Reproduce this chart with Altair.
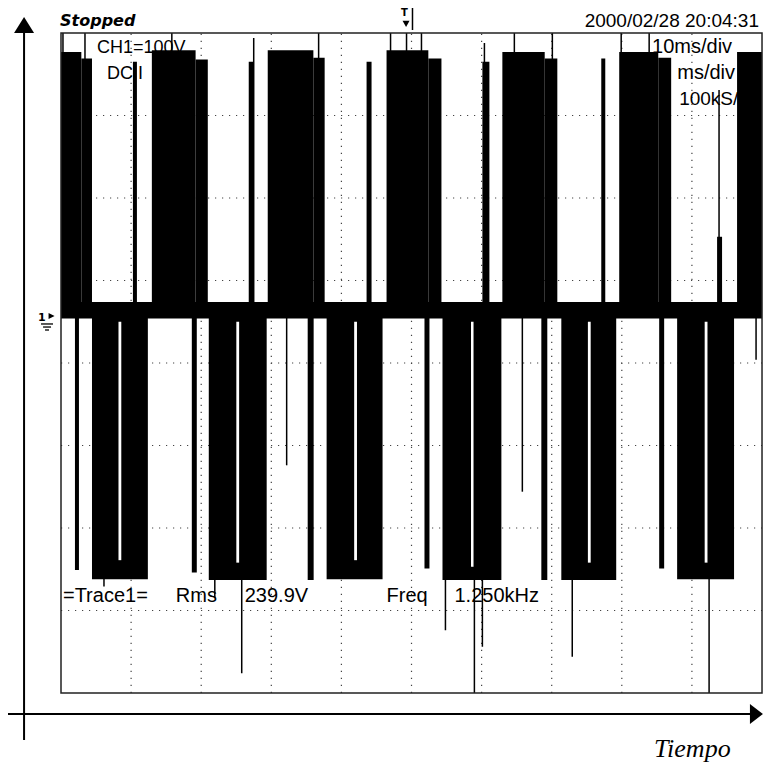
import altair as alt
import pandas as pd

# ---------------- data (time in ms, 10 ms/div ; voltage in V, 100 V/div) ----------------
# positive PWM bursts
pos_start = [0.0, 12.96, 29.49, 46.44, 62.96, 79.63, 96.44]
pos_end = [4.42, 20.94, 37.61, 54.27, 70.80, 87.04, 100.0]
pos_top = [317, 319, 319, 319, 317, 317, 317]
# lower right-hand shoulder of each positive burst
shoulder_start = [2.9, 19.2, 36.0, 52.4, 69.0, 85.2]
shoulder_top = [309, 308, 310, 309, 309, 310]

# negative PWM bursts (U shaped, with a narrow open slot)
neg_start = [4.42, 21.08, 37.89, 54.42, 71.37, 87.89]
neg_end = [12.39, 29.34, 45.87, 62.82, 79.20, 96.01]
neg_bottom = [-322, -323, -322, -323, -323, -322]
slot_center = [8.40, 25.21, 42.02, 58.69, 75.36, 92.02]
slot_bottom = [-299, -302, -299, -307, -302, -302]

# narrow positive pulses
thin_pos_start = [10.26, 26.78, 43.59, 60.11, 77.07, 93.59]
thin_pos_end = [10.83, 27.49, 44.30, 61.11, 77.64, 94.30]
thin_pos_top = [305, 305, 305, 305, 309, 93]

# narrow negative pulses
thin_neg_start = [1.99, 18.66, 35.19, 51.85, 68.52, 85.33]
thin_neg_end = [2.56, 19.37, 36.04, 52.56, 69.37, 86.04]
thin_neg_bottom = [-311, -314, -323, -309, -323, -309]

# single-sample glitches
up_glitch_t = [0.28, 3.42, 15.81, 27.49, 36.75, 47.01, 49.29, 51.42, 60.40, 64.67, 70.09, 79.91, 83.90, 93.87]
up_glitch_v = [340, 340, 340, 334, 340, 340, 340, 340, 328, 340, 340, 340, 340, 271]
down_glitch_t = [6.13, 21.94, 25.78, 32.19, 54.84, 58.97, 60.11, 65.81, 72.93, 92.45, 99.15]
down_glitch_v = [-331, -345, -436, -184, -384, -460, -404, -216, -416, -460, -56]

# zero-level trace band
band_low, band_high = -6, 14

# screen grid (10 x 8 divisions)
grid_t = [10, 20, 30, 40, 50, 60, 70, 80, 90]
grid_v = [240, 140, 40, -60, -160, -260, -360]

# on-screen texts
txt_label = ["CH1=100V", "DC I", "10ms/div", "ms/div", "100kS/s",
             "=Trace1=", "Rms", "239.9V", "Freq", "1.250kHz"]
txt_t = [5.13, 6.55, 95.73, 96.15, 88.18, 0.28, 16.38, 26.21, 46.44, 56.13]
txt_v = [315.8, 284.2, 315.8, 284.2, 252.7, -349.7, -349.7, -349.7, -349.7, -349.7]
txt_align = ["left", "left", "right", "right", "left", "left", "left", "left", "left", "left"]
txt_size = [18, 18, 20, 20, 19, 20, 20, 20, 20, 20]

# ---------------- scales ----------------
XS = alt.Scale(domain=[-7.561, 100.14], nice=False, zero=False)
YS = alt.Scale(domain=[-544.85, 370.30], nice=False, zero=False)


def xq(f):
    return alt.X(f"{f}:Q", scale=XS, axis=None)


def yq(f):
    return alt.Y(f"{f}:Q", scale=YS, axis=None)


# ---------------- tables ----------------
rows = []
for i, (s, e, t) in enumerate(zip(pos_start, pos_end, pos_top)):
    if i < len(shoulder_start):
        rows.append(dict(a=s, b=shoulder_start[i], lo=0, hi=t))
        rows.append(dict(a=shoulder_start[i], b=e, lo=0, hi=shoulder_top[i]))
    else:
        rows.append(dict(a=s, b=e, lo=0, hi=t))
for s, e, t in zip(thin_pos_start, thin_pos_end, thin_pos_top):
    rows.append(dict(a=s, b=e, lo=0, hi=t))
for s, e, b in zip(neg_start, neg_end, neg_bottom):
    rows.append(dict(a=s, b=e, lo=b, hi=0))
for s, e, b in zip(thin_neg_start, thin_neg_end, thin_neg_bottom):
    rows.append(dict(a=s, b=e, lo=b, hi=0))
rows.append(dict(a=0, b=100, lo=band_low, hi=band_high))
blocks = pd.DataFrame(rows)

slots = pd.DataFrame(dict(a=[c - 0.2 for c in slot_center],
                          b=[c + 0.2 for c in slot_center],
                          lo=slot_bottom, hi=[-10] * len(slot_center)))

glitches = pd.DataFrame(dict(
    t=up_glitch_t + down_glitch_t,
    v1=[0] * (len(up_glitch_t) + len(down_glitch_t)),
    v2=up_glitch_v + down_glitch_v,
))

vgrid = pd.DataFrame(dict(t=grid_t, v1=-460, v2=340))
hgrid = pd.DataFrame(dict(v=grid_v, t1=0, t2=100))
frame = pd.DataFrame(dict(a=[0], b=[100], lo=[-460], hi=[340]))
texts = pd.DataFrame(dict(label=txt_label, t=txt_t, v=txt_v, align=txt_align, size=txt_size))

# ---------------- layers ----------------
grid_v_layer = alt.Chart(vgrid).mark_rule(color="#444", strokeWidth=1.2, strokeDash=[1.2, 5.8]).encode(
    x=xq("t"), y=yq("v1"), y2="v2")
grid_h_layer = alt.Chart(hgrid).mark_rule(color="#444", strokeWidth=1.2, strokeDash=[1.2, 5.8]).encode(
    y=yq("v"), x=xq("t1"), x2="t2")

text_layers = []
for al in ["left", "right"]:
    for sz in sorted(set(txt_size)):
        sub = texts[(texts["align"] == al) & (texts["size"] == sz)]
        if len(sub) == 0:
            continue
        text_layers.append(
            alt.Chart(sub).mark_text(align=al, baseline="alphabetic", font="Liberation Sans",
                                     fontSize=sz, color="black").encode(
                x=xq("t"), y=yq("v"), text="label:N"))

trace_layer = alt.Chart(blocks).mark_rect(color="black").encode(
    x=xq("a"), x2="b", y=yq("lo"), y2="hi")
slot_layer = alt.Chart(slots).mark_rect(color="white").encode(
    x=xq("a"), x2="b", y=yq("lo"), y2="hi")
glitch_layer = alt.Chart(glitches).mark_rule(color="black", strokeWidth=1.5).encode(
    x=xq("t"), y=yq("v1"), y2="v2")
frame_layer = alt.Chart(frame).mark_rect(fillOpacity=0, stroke="#222", strokeWidth=1.5).encode(
    x=xq("a"), x2="b", y=yq("lo"), y2="hi")

# header / outer decorations (positions in the same ms / V units)
stopped = alt.Chart(pd.DataFrame(dict(t=[-0.14], v=[348.5], s=["Stopped"]))).mark_text(
    align="left", baseline="alphabetic", font="DejaVu Sans", fontSize=16, fontWeight="bold",
    fontStyle="italic").encode(x=xq("t"), y=yq("v"), text="s:N")
date = alt.Chart(pd.DataFrame(dict(t=[99.57], v=[347.3], s=["2000/02/28  20:04:31"]))).mark_text(
    align="right", baseline="alphabetic", font="Liberation Sans", fontSize=19).encode(
    x=xq("t"), y=yq("v"), text="s:N")
trig_t = alt.Chart(pd.DataFrame(dict(t=[49.0], v=[360.6], s=["T"]))).mark_text(
    align="center", baseline="alphabetic", font="DejaVu Sans", fontSize=10, fontWeight="bold").encode(
    x=xq("t"), y=yq("v"), text="s:N")
trig_arrow = alt.Chart(pd.DataFrame(dict(t=[49.22], v=[351.5]))).mark_point(
    shape="M-1,-0.8L1,-0.8L0,1Z", size=49, filled=True, color="black", opacity=1).encode(
    x=xq("t"), y=yq("v"))
trig_bar = alt.Chart(pd.DataFrame(dict(t=[50.14], v1=[370.3], v2=[343.6]))).mark_rule(
    color="black", strokeWidth=1.5).encode(x=xq("t"), y=yq("v1"), y2="v2")

gnd_text = alt.Chart(pd.DataFrame(dict(t=[-2.75], v=[-9.1], s=["1"]))).mark_text(
    align="center", baseline="alphabetic", font="DejaVu Sans", fontSize=11, fontWeight="bold").encode(
    x=xq("t"), y=yq("v"), text="s:N")
gnd_tri = alt.Chart(pd.DataFrame(dict(t=[-1.35], v=[-3.0]))).mark_point(
    shape="M1,0L-1,-1L-1,1Z", size=36, filled=True, color="black", opacity=1).encode(
    x=xq("t"), y=yq("v"))
gnd_lines = alt.Chart(pd.DataFrame(dict(v=[-12.7, -16.4, -20.0], t1=[-2.85, -2.56, -2.28],
                                        t2=[-1.14, -1.42, -1.71]))).mark_rule(
    color="black", strokeWidth=1.3).encode(y=yq("v"), x=xq("t1"), x2="t2")

axis_v = alt.Chart(pd.DataFrame(dict(t=[-5.27], v1=[345.0], v2=[-517.0]))).mark_rule(
    color="black", strokeWidth=2).encode(x=xq("t"), y=yq("v1"), y2="v2")
axis_h = alt.Chart(pd.DataFrame(dict(v=[-485.5], t1=[-7.561], t2=[98.5]))).mark_rule(
    color="black", strokeWidth=2).encode(y=yq("v"), x=xq("t1"), x2="t2")
arrow_up = alt.Chart(pd.DataFrame(dict(t=[-5.27], v=[349.7]))).mark_point(
    shape="M0,-0.8L1,0.8L-1,0.8Z", size=400, filled=True, color="black", opacity=1).encode(
    x=xq("t"), y=yq("v"))
arrow_right = alt.Chart(pd.DataFrame(dict(t=[99.2], v=[-485.5]))).mark_point(
    shape="M0.65,0L-0.65,-1L-0.65,1Z", size=400, filled=True, color="black", opacity=1).encode(
    x=xq("t"), y=yq("v"))
tiempo = alt.Chart(pd.DataFrame(dict(t=[84.6], v=[-537.6], s=["Tiempo"]))).mark_text(
    align="left", baseline="alphabetic", font="Liberation Serif", fontSize=26,
    fontStyle="italic").encode(x=xq("t"), y=yq("v"), text="s:N")

chart = alt.layer(
    grid_v_layer, grid_h_layer, *text_layers, trace_layer, slot_layer, glitch_layer, frame_layer,
    stopped, date, trig_t, trig_arrow, trig_bar, gnd_text, gnd_tri, gnd_lines,
    axis_v, axis_h, arrow_up, arrow_right, tiempo,
).properties(width=755, height=755, padding=0, autosize="none").configure_view(stroke=None)

chart.save("out.html", embed_options={"renderer": "svg", "actions": False})
